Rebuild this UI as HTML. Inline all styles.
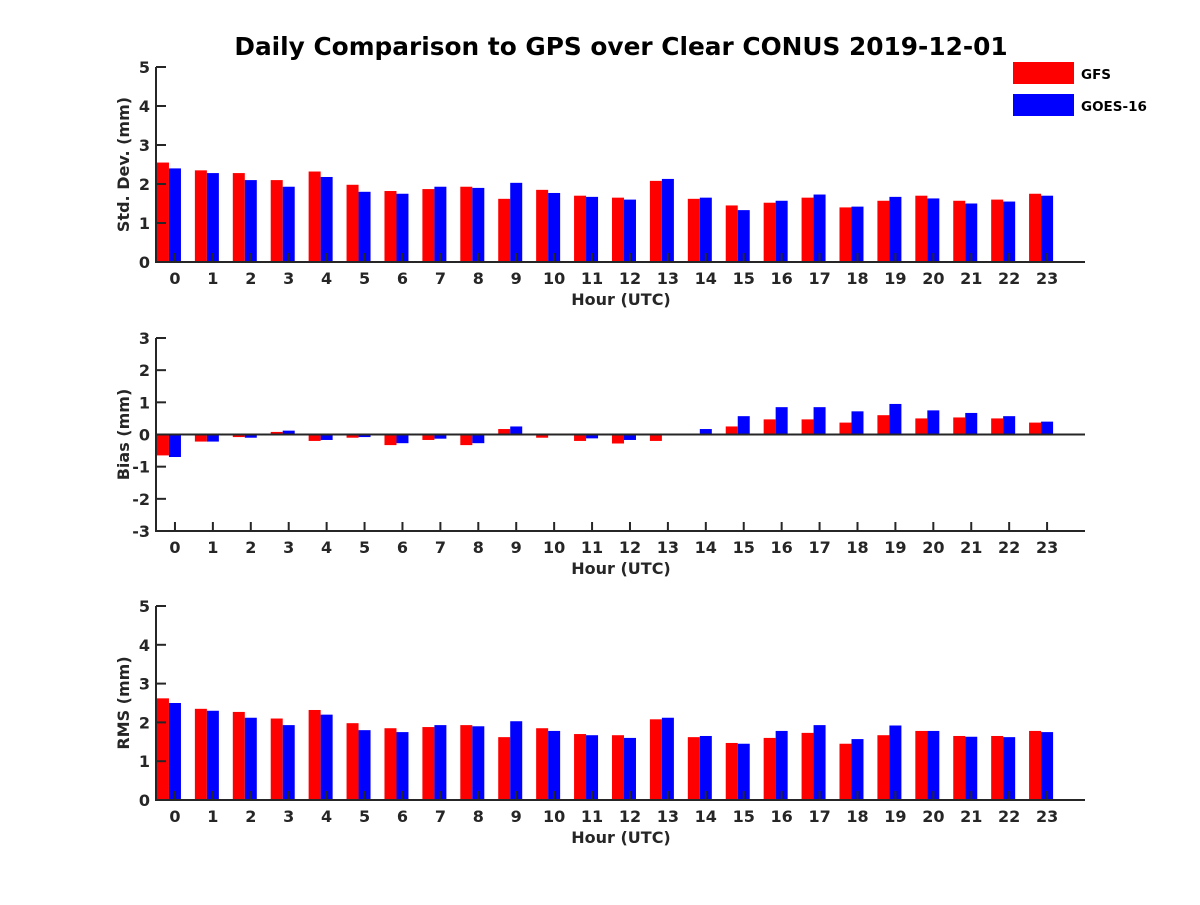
<!DOCTYPE html>
<html><head><meta charset="utf-8"><style>
body{margin:0;background:#fff}
svg text{font-family:"DejaVu Sans","Liberation Sans",sans-serif;font-weight:bold;fill:#262626}
</style></head><body>
<svg id="c" width="1200" height="900" xmlns="http://www.w3.org/2000/svg">
<text x="621" y="55" font-size="24.8" text-anchor="middle" style="fill:#000">Daily Comparison to GPS over Clear CONUS 2019-12-01</text>
<rect x="1013" y="62" width="61" height="22" fill="#f00"/>
<text x="1081" y="79" font-size="13.5" style="fill:#000">GFS</text>
<rect x="1013" y="94" width="61" height="22" fill="#00f"/>
<text x="1081" y="111" font-size="13.5" style="fill:#000">GOES-16</text>
</svg>
<script>
const hours=[0,1,2,3,4,5,6,7,8,9,10,11,12,13,14,15,16,17,18,19,20,21,22,23];
const stdGFS=[2.55,2.35,2.28,2.1,2.32,1.98,1.82,1.87,1.93,1.62,1.85,1.7,1.65,2.08,1.62,1.45,1.52,1.65,1.4,1.57,1.7,1.57,1.6,1.75];
const stdGOES=[2.4,2.28,2.1,1.93,2.18,1.8,1.75,1.93,1.9,2.03,1.77,1.67,1.6,2.13,1.65,1.33,1.57,1.73,1.42,1.67,1.63,1.5,1.55,1.7];
const biasGFS=[-0.65,-0.22,-0.08,0.08,-0.2,-0.1,-0.33,-0.17,-0.33,0.17,-0.1,-0.2,-0.28,-0.2,-0.03,0.25,0.47,0.47,0.37,0.6,0.5,0.53,0.5,0.37];
const biasGOES=[-0.7,-0.22,-0.1,0.12,-0.17,-0.08,-0.27,-0.13,-0.27,0.25,-0.02,-0.12,-0.17,-0.03,0.17,0.57,0.85,0.85,0.72,0.95,0.75,0.67,0.57,0.4];
const rmsGFS=[2.62,2.35,2.27,2.1,2.32,1.98,1.85,1.88,1.93,1.62,1.85,1.7,1.67,2.08,1.62,1.47,1.6,1.73,1.45,1.67,1.78,1.65,1.65,1.78];
const rmsGOES=[2.5,2.3,2.12,1.93,2.2,1.8,1.75,1.93,1.9,2.03,1.78,1.67,1.6,2.12,1.65,1.45,1.78,1.93,1.57,1.92,1.78,1.63,1.62,1.75];
const stdTicks=[0,1,2,3,4,5];
const biasTicks=[-3,-2,-1,0,1,2,3];
const rmsTicks=[0,1,2,3,4,5];
const svg=document.getElementById('c');
const NS='http://www.w3.org/2000/svg';
function mk(t,a,p){const e=document.createElementNS(NS,t);for(const k in a)e.setAttribute(k,a[k]);(p||svg).appendChild(e);return e;}
const X0=156,X1=1085,xmin=-0.5,xmax=24;
function xs(v){return X0+(v-xmin)/(xmax-xmin)*(X1-X0);}
function panel(name,top,bot,ymin,ymax,ticks,r,b,ylabel){
  const g=mk('g',{});
  
  
  const ys=v=>bot-(v-ymin)/(ymax-ymin)*(bot-top);
  const base=ys(Math.max(0,ymin));
  hours.forEach((h,i)=>{
    const cx=xs(h);
    [[r[i],'#f00',-18,'gfs'],[b[i],'#00f',-6,'goes16']].forEach(([v,c,off,s])=>{
      const y=ys(v);
      const bar=mk('rect',{x:cx+off,y:Math.min(y,base),width:12,height:Math.abs(y-base),fill:c},g);
      
      
    });
    mk('line',{x1:cx,x2:cx,y1:bot,y2:bot-9,stroke:'#262626','stroke-width':2},g);
    const t=mk('text',{x:cx,y:bot+22,'font-size':16,'text-anchor':'middle'},g);t.textContent=h;
    
    
  });
  ticks.forEach(v=>{
    const y=ys(v);
    mk('line',{x1:X0,x2:X0+10,y1:y,y2:y,stroke:'#262626','stroke-width':2},g);
    const t=mk('text',{x:X0-6,y:y+6,'font-size':16,'text-anchor':'end'},g);t.textContent=v;
    
    
  });
  if(ymin<0) mk('line',{x1:X0,x2:X1,y1:ys(0),y2:ys(0),stroke:'#262626','stroke-width':2},g);
  mk('line',{x1:X0,x2:X0,y1:top,y2:bot+1,stroke:'#262626','stroke-width':2},g);
  mk('line',{x1:X0-1,x2:X1,y1:bot,y2:bot,stroke:'#262626','stroke-width':2},g);
  const xl=mk('text',{x:621,y:bot+43,'font-size':16,'text-anchor':'middle'},g);xl.textContent='Hour (UTC)';
  
  
  const my=(top+bot)/2;
  const yl=mk('text',{x:129,y:my,'font-size':16,'text-anchor':'middle',transform:'rotate(-90 129 '+my+')'},g);yl.textContent=ylabel;
  
  
}
panel('std-dev',67,262,0,5,stdTicks,stdGFS,stdGOES,'Std. Dev. (mm)');
panel('bias',338,531,-3,3,biasTicks,biasGFS,biasGOES,'Bias (mm)');
panel('rms',606,800,0,5,rmsTicks,rmsGFS,rmsGOES,'RMS (mm)');
</script>
</body></html>
